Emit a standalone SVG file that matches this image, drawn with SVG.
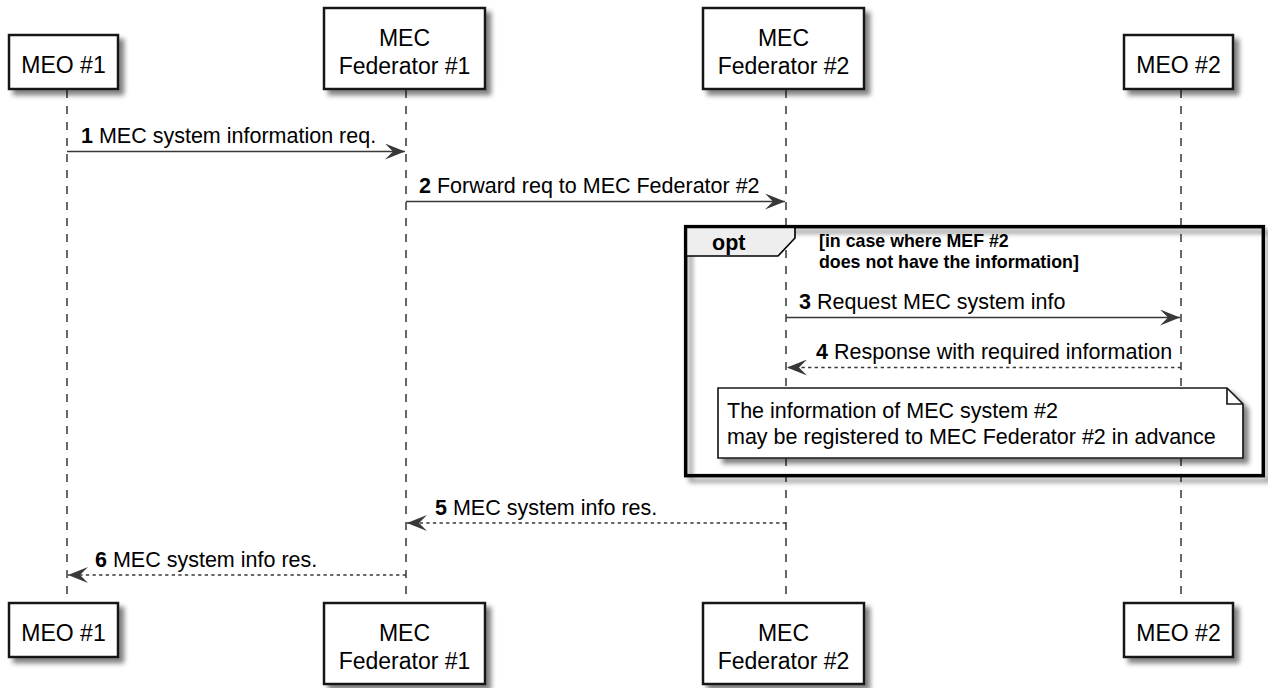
<svg xmlns="http://www.w3.org/2000/svg" width="1268" height="688" viewBox="0 0 1268 688">
<defs>
<style>
.box{fill:#fff;stroke:#181818;stroke-width:2.5}
.pt{font-family:"Liberation Sans",Arial,sans-serif;font-size:23px;fill:#000;text-anchor:middle}
.life{stroke:#444;stroke-width:1.6;stroke-dasharray:8,8;fill:none}
.msg{stroke:#383838;stroke-width:1.6;fill:none}
.ret{stroke:#383838;stroke-width:1.6;fill:none;stroke-dasharray:3.3,3.3}
.lbl{font-family:"Liberation Sans",Arial,sans-serif;font-size:21.5px;fill:#000}
.num{font-weight:bold}
.guard{font-family:"Liberation Sans",Arial,sans-serif;font-size:17.8px;font-weight:bold;fill:#000}
.head{fill:#383838}
</style>
<filter id="sh" x="-10%" y="-10%" width="130%" height="140%">
<feGaussianBlur in="SourceAlpha" stdDeviation="2.5"/>
<feOffset dx="5" dy="5" result="o"/>
<feComponentTransfer><feFuncA type="linear" slope="0.5"/></feComponentTransfer>
<feMerge><feMergeNode/><feMergeNode in="SourceGraphic"/></feMerge>
</filter>
<marker id="ah" viewBox="0 0 20 16" refX="20" refY="8" markerWidth="20" markerHeight="16" markerUnits="userSpaceOnUse" orient="auto">
<polygon points="0,0 20,8 0,16 8,8" class="head"/>
</marker>
</defs>
<rect width="1268" height="688" fill="#fff"/>

<g id="lifelines">
<line class="life" x1="67" y1="90" x2="67" y2="603"/>
<line class="life" x1="406" y1="90" x2="406" y2="603"/>
<line class="life" x1="786" y1="90" x2="786" y2="603"/>
<line class="life" x1="1181" y1="90" x2="1181" y2="603"/>
</g>

<g id="opt-frame">
<rect x="685.6" y="226.6" width="577.8" height="249" fill="none" stroke="#000" stroke-width="3.3" filter="url(#sh)"/>
<polygon points="685.6,226.6 795,226.6 795,238 778,256 685.6,256" fill="#EEEEEE" stroke="#000" stroke-width="1.65"/>
<rect x="685.6" y="226.6" width="577.8" height="249" fill="none" stroke="#000" stroke-width="3.3"/>
<text class="lbl num" x="712" y="250" font-size="21px">opt</text>
<text class="guard" x="819" y="247">[in case where MEF #2</text>
<text class="guard" x="819" y="268">does not have the information]</text>
</g>

<g id="note">
<path d="M718,388 L1227,388 L1243,404 L1243,458 L718,458 Z" fill="#fff" stroke="#181818" stroke-width="1.65" filter="url(#sh)"/>
<path d="M1227,388 L1227,404 L1243,404" fill="none" stroke="#181818" stroke-width="1.65"/>
<text class="lbl" x="727" y="418">The information of MEC system #2</text>
<text class="lbl" x="727" y="444">may be registered to MEC Federator #2 in advance</text>
</g>

<g id="connectors">
<line class="msg" x1="67" y1="151.5" x2="405" y2="151.5" marker-end="url(#ah)"/>
<line class="msg" x1="406" y1="201.5" x2="785" y2="201.5" marker-end="url(#ah)"/>
<line class="msg" x1="786" y1="317.5" x2="1180" y2="317.5" marker-end="url(#ah)"/>
<line class="ret" x1="1181" y1="367.5" x2="787" y2="367.5" marker-end="url(#ah)"/>
<line class="ret" x1="786" y1="523" x2="407" y2="523" marker-end="url(#ah)"/>
<line class="ret" x1="406" y1="575" x2="68" y2="575" marker-end="url(#ah)"/>
<text class="lbl" x="81" y="143"><tspan class="num">1</tspan> MEC system information req.</text>
<text class="lbl" x="419" y="193"><tspan class="num">2</tspan> Forward req to MEC Federator #2</text>
<text class="lbl" x="799" y="309"><tspan class="num">3</tspan> Request MEC system info</text>
<text class="lbl" x="816" y="359"><tspan class="num">4</tspan> Response with required information</text>
<text class="lbl" x="435" y="515"><tspan class="num">5</tspan> MEC system info res.</text>
<text class="lbl" x="95" y="567"><tspan class="num">6</tspan> MEC system info res.</text>
</g>

<g id="meo1-top"><rect class="box" x="9" y="35" width="109" height="54" filter="url(#sh)"/><text class="pt" x="63.5" y="73">MEO #1</text></g>
<g id="fed1-top"><rect class="box" x="324" y="8" width="161" height="81" filter="url(#sh)"/><text class="pt" x="404.5" y="46">MEC</text><text class="pt" x="404.5" y="74">Federator #1</text></g>
<g id="fed2-top"><rect class="box" x="703" y="8" width="161" height="81" filter="url(#sh)"/><text class="pt" x="783.5" y="46">MEC</text><text class="pt" x="783.5" y="74">Federator #2</text></g>
<g id="meo2-top"><rect class="box" x="1124" y="35" width="109" height="54" filter="url(#sh)"/><text class="pt" x="1178.5" y="73">MEO #2</text></g>

<g id="meo1-bottom"><rect class="box" x="9" y="603" width="109" height="54" filter="url(#sh)"/><text class="pt" x="63.5" y="641">MEO #1</text></g>
<g id="fed1-bottom"><rect class="box" x="324" y="603" width="161" height="81" filter="url(#sh)"/><text class="pt" x="404.5" y="641">MEC</text><text class="pt" x="404.5" y="669">Federator #1</text></g>
<g id="fed2-bottom"><rect class="box" x="703" y="603" width="161" height="81" filter="url(#sh)"/><text class="pt" x="783.5" y="641">MEC</text><text class="pt" x="783.5" y="669">Federator #2</text></g>
<g id="meo2-bottom"><rect class="box" x="1124" y="603" width="109" height="54" filter="url(#sh)"/><text class="pt" x="1178.5" y="641">MEO #2</text></g>
</svg>
